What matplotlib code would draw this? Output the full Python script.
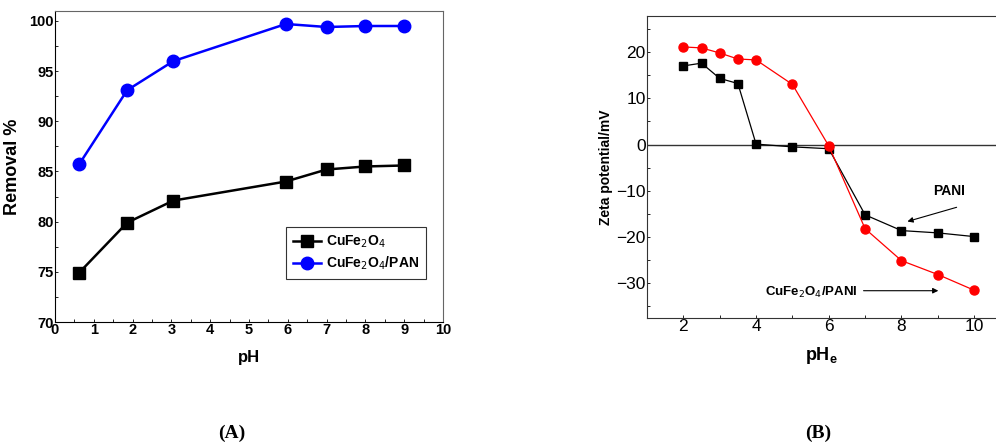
import matplotlib.pyplot as plt
from matplotlib.ticker import MultipleLocator

# panel A: removal vs pH
ph_a = [0.62, 1.86, 3.05, 5.95, 7.0, 8.0, 9.0]
removal_cufe = [74.9, 79.9, 82.1, 84.0, 85.2, 85.5, 85.6]
removal_pan = [85.7, 93.1, 96.0, 99.7, 99.4, 99.5, 99.5]

# panel B: zeta potential vs pHe
ph_b = [2, 2.5, 3, 3.5, 4, 5, 6, 7, 8, 9, 10]
zeta_pani = [17.0, 17.6, 14.3, 13.2, 0.1, -0.5, -0.9, -15.2, -18.6, -19.1, -19.9]
zeta_cufe_pani = [21.1, 20.9, 19.8, 18.5, 18.3, 13.0, -0.3, -18.2, -25.1, -28.1, -31.5]

arial = ['Liberation Sans', 'DejaVu Sans']

fig = plt.figure(figsize=(9.96, 4.45), dpi=100)

# ---- (A)
ax1 = fig.add_axes([0.0552, 0.2764, 0.3896, 0.699])
ax1.plot(ph_a, removal_cufe, color='black', marker='s', markersize=8, linewidth=1.8,
         label='CuFe$_2$O$_4$')
ax1.plot(ph_a, removal_pan, color='blue', marker='o', markersize=9, linewidth=1.8,
         label='CuFe$_2$O$_4$/PAN')
ax1.set_xlim(0, 10)
ax1.set_ylim(70, 101)
ax1.xaxis.set_major_locator(MultipleLocator(1))
ax1.xaxis.set_minor_locator(MultipleLocator(0.5))
ax1.yaxis.set_major_locator(MultipleLocator(5))
ax1.yaxis.set_minor_locator(MultipleLocator(2.5))
ax1.tick_params(which='both', direction='in', length=2, width=0.6, pad=1)
for lab in ax1.get_xticklabels() + ax1.get_yticklabels():
    lab.set_family(arial)
    lab.set_fontweight('bold')
    lab.set_fontsize(10.5)
ax1.set_xlabel('pH', family=arial, fontweight='bold', fontsize=12, labelpad=9)
ax1.set_ylabel('Removal %', family=arial, fontweight='bold', fontsize=13, labelpad=6)
for s in ['top', 'right']:
    ax1.spines[s].set_color('#666666')
leg = ax1.legend(loc='lower right', bbox_to_anchor=(0.975, 0.115), fancybox=False,
                 edgecolor='#333333', framealpha=1, handlelength=2.0, handletextpad=0.4,
                 prop={'family': arial, 'weight': 'bold', 'size': 10},
                 borderpad=0.5, labelspacing=0.35)
leg.get_frame().set_linewidth(0.8)

# ---- (B)
ax2 = fig.add_axes([0.6496, 0.2854, 0.3504, 0.6787])
ax2.axhline(0, color='#333333', linewidth=1)
ax2.plot(ph_b, zeta_pani, color='black', marker='s', markersize=6, linewidth=0.9)
ax2.plot(ph_b, zeta_cufe_pani, color='red', marker='o', markersize=6.5, linewidth=0.9)
ax2.set_xlim(1, 10.6)
ax2.set_ylim(-37.5, 27.8)
ax2.xaxis.set_major_locator(MultipleLocator(2))
ax2.xaxis.set_minor_locator(MultipleLocator(1))
ax2.yaxis.set_major_locator(MultipleLocator(10))
ax2.yaxis.set_minor_locator(MultipleLocator(5))
ax2.tick_params(which='both', direction='in', length=2, width=0.6, pad=1)
for lab in ax2.get_xticklabels() + ax2.get_yticklabels():
    lab.set_family(arial)
    lab.set_fontsize(12.5)
ax2.spines['right'].set_visible(False)
for s in ['top', 'left', 'bottom']:
    ax2.spines[s].set_color('#333333')
ax2.set_xlabel('pH$_\\mathregular{e}$', family=arial, fontweight='bold', fontsize=13, labelpad=8)
ax2.set_ylabel('Zeta potential/mV', family=arial, fontweight='bold', fontsize=10, labelpad=2)

ax2.annotate('', xy=(8.09, -16.8), xytext=(9.59, -13.4),
             arrowprops=dict(arrowstyle='-|>', color='black', linewidth=0.8, mutation_scale=8))
ax2.text(9.32, -10.1, 'PANI', family=arial, fontweight='bold', fontsize=10,
         ha='center', va='center')
ax2.annotate('', xy=(9.09, -31.6), xytext=(6.88, -31.6),
             arrowprops=dict(arrowstyle='-|>', color='black', linewidth=0.8, mutation_scale=8))
ax2.text(5.52, -32.0, 'CuFe$_2$O$_4$/PANI', family=arial, fontweight='bold', fontsize=9.5,
         ha='center', va='center')

# panel captions
fig.text(232 / 996, 1 - 433 / 445, '(A)', family=['Liberation Serif', 'DejaVu Serif'],
         fontweight='bold', fontsize=14, ha='center', va='center')
fig.text(818 / 996, 1 - 433 / 445, '(B)', family=['Liberation Serif', 'DejaVu Serif'],
         fontweight='bold', fontsize=14, ha='center', va='center')

fig.savefig('out.png', dpi=100)
